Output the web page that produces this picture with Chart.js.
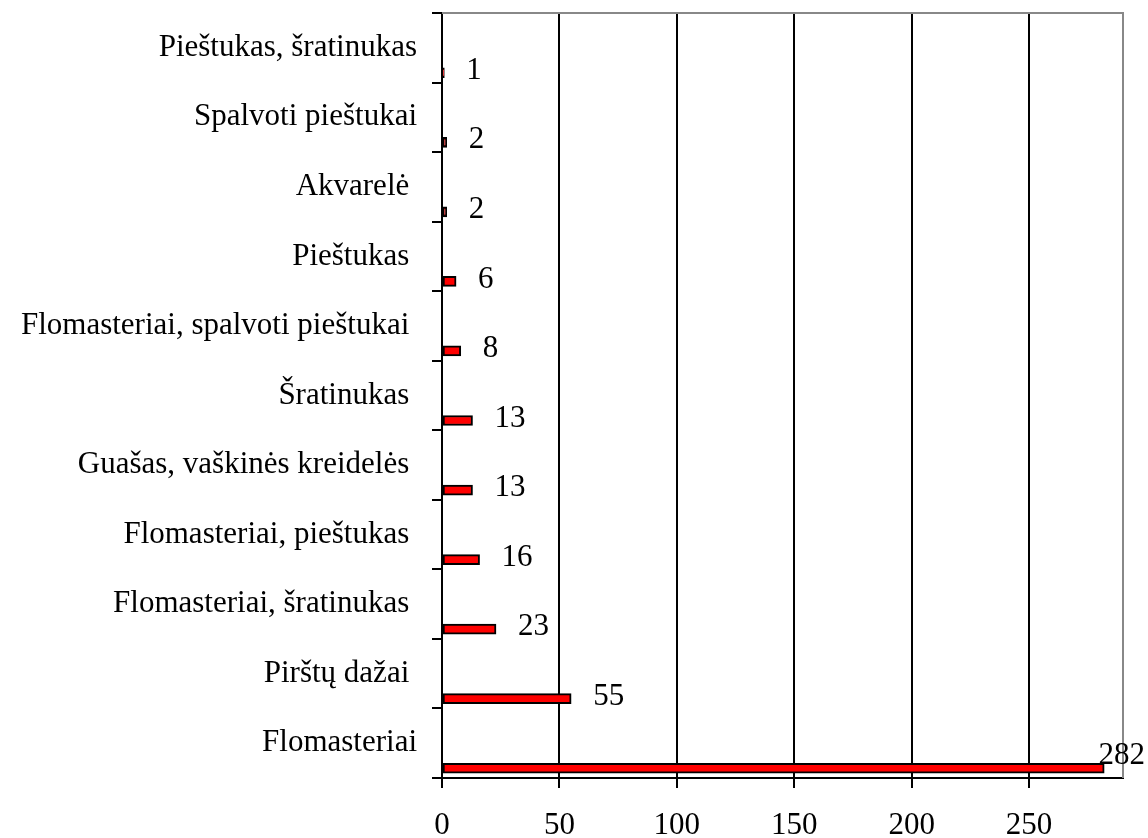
<!DOCTYPE html>
<html>
<head>
<meta charset="utf-8">
<script src="https://cdn.jsdelivr.net/npm/chart.js@4.4.0/dist/chart.umd.min.js"></script>
<style>
  html, body { margin: 0; padding: 0; background: #fff; }
</style>
</head>
<body>
<canvas id="myChart" width="1148" height="838"></canvas>
<script>
// what the children drew with, listed top to bottom
const categories = [
    'Pieštukas, šratinukas',
    'Spalvoti pieštukai',
    'Akvarelė ',
    'Pieštukas ',
    'Flomasteriai, spalvoti pieštukai ',
    'Šratinukas ',
    'Guašas, vaškinės kreidelės ',
    'Flomasteriai, pieštukas ',
    'Flomasteriai, šratinukas ',
    'Pirštų dažai ',
    'Flomasteriai'
]
// number of drawings for each
const counts = [1, 2, 2, 6, 8, 13, 13, 16, 23, 55, 282]
// value axis
const xMax = 290
const xStep = 50

const font = { family: "'Liberation Serif', 'Times New Roman', serif", size: 31 }

// empty datasets in front of the real one push the bar to the bottom of its row
const spacers = []
for (let i = 0; i < 5; i++) {
    spacers.push({ data: categories.map(() => null), barThickness: 10 })
}

// grey frame on top/right and the numbers next to the bars
const frameAndValues = {
    id: 'frameAndValues',
    beforeDatasetsDraw(chart) {
        const { ctx, chartArea } = chart
        ctx.save()
        ctx.strokeStyle = '#888888'
        ctx.lineWidth = 2
        ctx.beginPath()
        ctx.moveTo(chartArea.left, chartArea.top)
        ctx.lineTo(chartArea.right, chartArea.top)
        ctx.lineTo(chartArea.right, chartArea.bottom)
        ctx.stroke()
        ctx.restore()
    },
    afterDatasetsDraw(chart) {
        const { ctx } = chart
        const meta = chart.getDatasetMeta(chart.data.datasets.length - 1)
        ctx.save()
        ctx.font = font.size + 'px ' + font.family
        ctx.fillStyle = '#000'
        ctx.textAlign = 'left'
        ctx.textBaseline = 'middle'
        meta.data.forEach((bar, i) => {
            const text = String(counts[i])
            const w = ctx.measureText(text).width
            let x = bar.x + 22
            let y = bar.y - 2
            // keep the label inside the canvas
            if (x + w > chart.width - 3) {
                x = chart.width - w - 3
                y -= 10
            }
            ctx.fillText(text, x, y)
        })
        ctx.restore()
    }
}

new Chart(document.getElementById('myChart'), {
    type: 'bar',
    data: {
        labels: categories,
        datasets: spacers.concat([{
            label: 'Piešiniai',
            data: counts,
            backgroundColor: '#ff0000',
            borderColor: '#000000',
            borderWidth: 2,
            borderSkipped: false,
            barThickness: 10
        }])
    },
    options: {
        indexAxis: 'y',
        responsive: false,
        animation: false,
        devicePixelRatio: 1,
        layout: { padding: { top: 13, right: 25, left: 0, bottom: 0 } },
        plugins: {
            legend: { display: false },
            tooltip: { enabled: false }
        },
        scales: {
            x: {
                min: 0,
                max: xMax,
                border: { color: '#000', width: 2 },
                grid: { color: '#000', lineWidth: 2, tickLength: 10, drawTicks: true },
                ticks: {
                    stepSize: xStep,
                    includeBounds: false,
                    color: '#000',
                    font: font,
                    padding: 19,
                    maxRotation: 0
                },
                afterFit(scale) {
                    scale.height = 60
                    scale.paddingLeft = 0
                    scale.paddingRight = 0
                }
            },
            y: {
                border: { color: '#000', width: 2 },
                grid: { drawOnChartArea: false, offset: true, color: '#000', lineWidth: 2, tickLength: 10 },
                ticks: {
                    color: '#000',
                    font: font,
                    padding: 15,
                    autoSkip: false
                },
                afterFit(scale) {
                    scale.width = 442
                    scale.paddingTop = 0
                    scale.paddingBottom = 0
                }
            }
        }
    },
    plugins: [frameAndValues]
})
</script>
</body>
</html>
